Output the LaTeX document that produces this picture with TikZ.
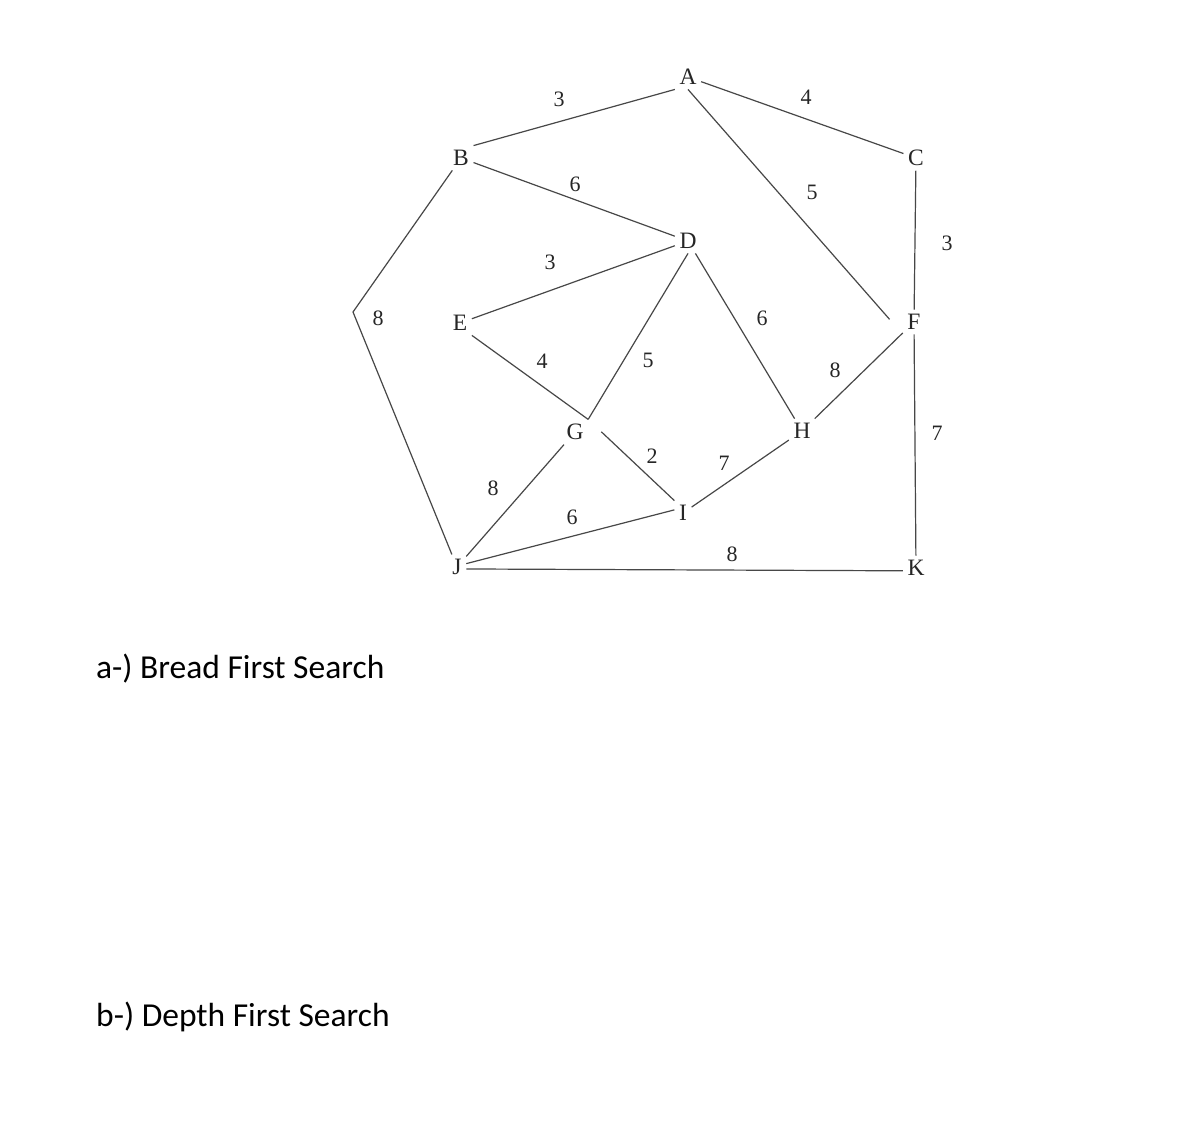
\documentclass[tikz,border=0pt]{standalone}
\usepackage{fontspec}
\setmainfont{Liberation Serif}
\newfontfamily\calibfont{Carlito}
\begin{document}
\begin{tikzpicture}[x=1pt,y=-1pt,
  vtx/.style={inner sep=4.5pt, text=black!85, font=\fontsize{23.5}{23.5}\selectfont},
  wt/.style={inner sep=0pt, text=black!85, font=\fontsize{22}{22}\selectfont},
  edge/.style={draw=black!72, line width=1.2pt},
  captext/.style={anchor=base west, inner sep=0pt, font=\calibfont\fontsize{33.5}{33.5}\selectfont}]
\useasboundingbox (0,0) rectangle (1200,1124);
\fill[white] (0,0) rectangle (1200,1124);
% vertices
\node[vtx] (A) at (688,77) {A};
\node[vtx] (B) at (461,158) {B};
\node[vtx] (C) at (916,158) {C};
\node[vtx] (D) at (688,241) {D};
\node[vtx] (E) at (460,323) {E};
\node[vtx] (F) at (914,322) {F};
\node[vtx] (G) at (575,432) {G};
\node[vtx] (H) at (802,431) {H};
\node[vtx] (I) at (683,513) {I};
\node[vtx] (J) at (457,567) {J};
\node[vtx] (K) at (916,568) {K};
\coordinate (bj) at (353,312);
% edges
\draw[edge] (B.north east) -- (A.south west);
\draw[edge] (B) -- (D);
\draw[edge] (B) -- (bj) -- (J);
\draw[edge] (A) -- (C);
\draw[edge, shorten >=20pt] (A.south) -- (F.south west);
\draw[edge] (C) -- (F);
\draw[edge] (F) -- (H);
\draw[edge] (F) -- (K);
\draw[edge] (D) -- (E);
\draw[edge] (D.south) -- (G.north east);
\draw[edge] (D) -- (H);
\draw[edge] (E.south east) -- (G.north east);
\draw[edge, shorten <=18pt] (G.north east) -- (I.north west);
\draw[edge] (G) -- (J);
\draw[edge] (H) -- (I);
\draw[edge] (I.160) -- (J.20);
\draw[edge] (J.-12) -- (K.192);
% weights
\node[wt] (wAB) at (559,99) {3};
\node[wt] (wBD) at (575,184) {6};
\node[wt] (wDE) at (550,262) {3};
\node[wt] (wBJ) at (378,318) {8};
\node[wt] (wAC) at (806,97) {4};
\node[wt] (wAF) at (812,192) {5};
\node[wt] (wCF) at (947,243) {3};
\node[wt] (wDH) at (762,318) {6};
\node[wt] (wEG) at (542,361) {4};
\node[wt] (wDG) at (648,360) {5};
\node[wt] (wFH) at (835,370) {8};
\node[wt] (wFK) at (937,433) {7};
\node[wt] (wGI) at (652,456) {2};
\node[wt] (wHI) at (724,463) {7};
\node[wt] (wGJ) at (493,488) {8};
\node[wt] (wJI) at (572,517) {6};
\node[wt] (wJK) at (732,554) {8};
% captions
\node[captext] (qa) at (96,678) {a-) Bread First Search};
\node[captext] (qb) at (96,1026) {b-) Depth First Search};
\end{tikzpicture}
\end{document}
